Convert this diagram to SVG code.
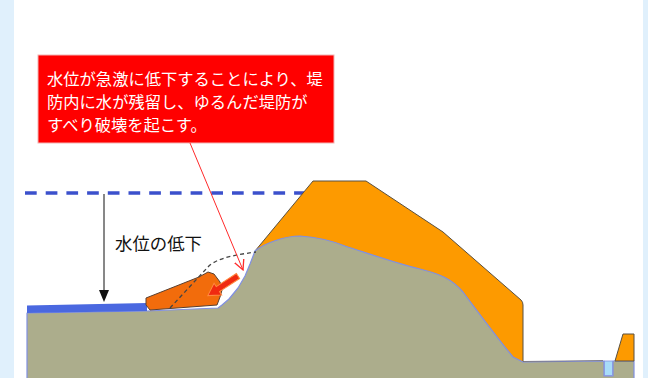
<svg xmlns="http://www.w3.org/2000/svg" width="648" height="378" viewBox="0 0 648 378">
  <defs>
    <style>
      .jp { font-family: "Noto Sans CJK JP", "Noto Sans", sans-serif; }
      .earth { fill: #acad8c; }
      .surface { fill: none; stroke: #8090e2; stroke-width: 1.2; stroke-linejoin: round; }
      .levee { fill: #fd9a00; stroke: #5a5040; stroke-width: 1; stroke-linejoin: round; }
    </style>
    <marker id="vhead" viewBox="0 0 10 10" refX="9" refY="5" markerWidth="11" markerHeight="11" markerUnits="userSpaceOnUse" orient="auto">
      <path d="M0,0.5 L9,5 L0,9.5" fill="none" stroke="#ff2a2a" stroke-width="1.2"/>
    </marker>
  </defs>

  <!-- page background with pale side bands -->
  <rect x="0" y="0" width="648" height="378" fill="#ffffff"/>
  <rect x="0" y="0" width="14" height="378" fill="#e0f0fc"/>
  <rect x="643" y="0" width="5" height="378" fill="#e0f0fc"/>

  <!-- original high water level -->
  <g id="high-water">
    <line x1="25" y1="193" x2="304" y2="193" stroke="#3b50cc" stroke-width="3.5" stroke-dasharray="11.7 9"/>
  </g>

  <!-- levee body -->
  <g id="levee">
    <path class="levee" d="M255,251 L313,181 L366,181 L443,232 L521,300 Q523,302 523,305 L523,363 L300,363 Z"/>
  </g>

  <!-- foundation / ground -->
  <g id="ground">
    <path class="earth" d="M27,313 L147,311 L218,308 L222,305 L229,299 L238,288 L245,276 L250,264 L255,251 C265,243 285,236 300,236 C315,237 330,240 345,246 C370,254 395,263 420,269 C440,274 452,279 463,292 C475,308 495,335 513,357 L523,362 L604,361 L604,376 L613,376 L613,361 L634,361 L634,378 L27,378 Z"/>
    <path class="surface" d="M27,378 L27,313 L147,311 L218,308 L222,305 L229,299 L238,288 L245,276 L250,264 L255,251 C265,243 285,236 300,236 C315,237 330,240 345,246 C370,254 395,263 420,269 C440,274 452,279 463,292 C475,308 495,335 513,357 L523,362 L604,361 L604,376 L613,376 L613,361 L634,361 L634,378"/>
    <line x1="523" y1="361.5" x2="603" y2="360.5" stroke="#6e6a70" stroke-width="0.8"/>
  </g>

  <!-- drainage ditch and small berm on the land side -->
  <g id="ditch">
    <rect x="604.5" y="361" width="8" height="14.5" fill="#a8dcf8" stroke="#8090e2" stroke-width="0.8"/>
  </g>
  <g id="berm">
    <path class="levee" d="M615,361 L623,334 L634,334 L634,361 Z"/>
  </g>

  <!-- remaining water on the river side -->
  <g id="low-water">
    <path d="M27,305.5 L147,303 L147,311 L27,313 Z" fill="#4a68e0"/>
  </g>

  <!-- slipped soil mass -->
  <g id="slide-mass">
    <path d="M146,298 L199,277 L208,272 L214,274 L220,282 L222,290 L220,297 L217,305 L150,310 L146,305 Z" fill="#f26c0c" stroke="#5a4030" stroke-width="1" stroke-linejoin="round"/>
  </g>

  <!-- former slope outline and slip surface -->
  <g id="slip-line">
    <path d="M170,308 L207,268 C214,260 226,256 256,252" fill="none" stroke="#444" stroke-width="1.3" stroke-dasharray="4 3"/>
  </g>

  <!-- movement of the slipped mass -->
  <g id="slide-arrow">
    <polygon points="0,-3 24,-3 24,-7 36,0 24,7 24,3 0,3" transform="translate(238,276) rotate(147)" fill="#f02a10" stroke="#ff8a40" stroke-width="1"/>
  </g>

  <!-- drawdown arrow and label -->
  <g id="drawdown">
    <line x1="104" y1="194" x2="104" y2="291" stroke="#111" stroke-width="1"/>
    <polygon points="99,290 109,290 104,302" fill="#111"/>
    <text class="jp" x="115" y="250" font-size="17.4" fill="#111">水位の低下</text>
  </g>

  <!-- explanatory callout -->
  <g id="callout">
    <rect x="38" y="55" width="296" height="88" fill="#ff0000" stroke="#f2b4b4" stroke-width="1"/>
    <g class="jp" font-size="16.3" fill="#ffffff">
      <text x="47" y="84.5">水位が急激に低下することにより、堤</text>
      <text x="47" y="107.5">防内に水が残留し、ゆるんだ堤防が</text>
      <text x="47" y="130.5">すべり破壊を起こす。</text>
    </g>
  </g>

  <!-- connectors -->
  <g id="connectors">
    <line x1="190" y1="143" x2="243" y2="270" stroke="#ff2a2a" stroke-width="1" marker-end="url(#vhead)"/>
  </g>
</svg>
